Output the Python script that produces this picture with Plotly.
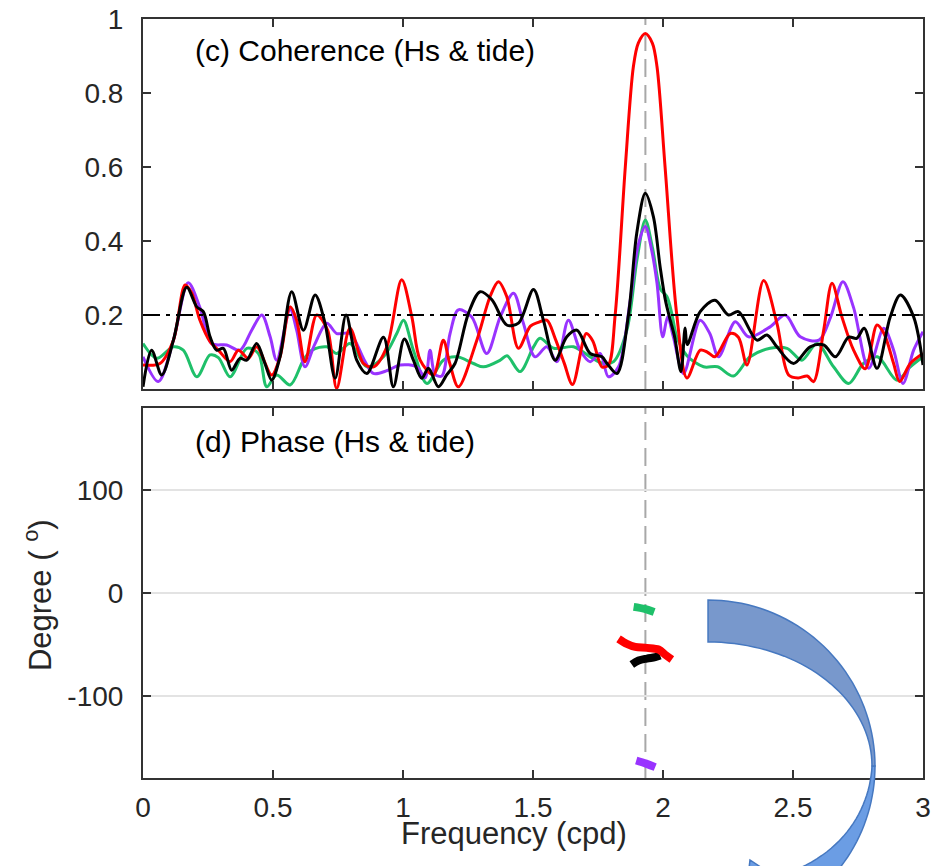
import numpy as np
import plotly.graph_objects as go

# ---- coherence spectra (Hs & tide), frequency in cpd ----
f_red = [0.000, 0.065, 0.117, 0.162, 0.187, 0.219, 0.258, 0.290, 0.335, 0.367, 0.405, 0.437,
         0.495, 0.527, 0.566, 0.591, 0.623, 0.668, 0.710, 0.745, 0.796, 0.848, 0.887, 0.938,
         0.995, 1.034, 1.066, 1.117, 1.155, 1.180, 1.213, 1.284, 1.335, 1.367, 1.399, 1.444,
         1.490, 1.520, 1.553, 1.585, 1.620, 1.652, 1.705, 1.730, 1.765, 1.790, 1.816, 1.855,
         1.886, 1.905, 1.932, 1.959, 1.977, 2.008, 2.053, 2.092, 2.143, 2.170, 2.200, 2.259,
         2.290, 2.323, 2.387, 2.438, 2.483, 2.520, 2.555, 2.579, 2.618, 2.650, 2.688, 2.733,
         2.778, 2.823, 2.850, 2.887, 2.910, 2.951, 3.000]
c_red = [0.065, 0.069, 0.132, 0.281, 0.260, 0.186, 0.128, 0.105, 0.074, 0.105, 0.083, 0.114,
         0.038, 0.087, 0.222, 0.186, 0.074, 0.200, 0.159, 0.002, 0.164, 0.069, 0.060, 0.114,
         0.295, 0.195, 0.078, 0.038, 0.132, 0.069, 0.006, 0.132, 0.250, 0.290, 0.250, 0.110,
         0.170, 0.180, 0.186, 0.137, 0.070, 0.012, 0.150, 0.130, 0.060, 0.065, 0.200, 0.600,
         0.871, 0.935, 0.961, 0.935, 0.871, 0.600, 0.200, 0.030, 0.105, 0.100, 0.087, 0.150,
         0.140, 0.065, 0.293, 0.178, 0.038, 0.030, 0.035, 0.020, 0.159, 0.286, 0.195, 0.105,
         0.055, 0.173, 0.150, 0.069, 0.020, 0.069, 0.096]

f_black = [0.000, 0.033, 0.072, 0.117, 0.168, 0.207, 0.232, 0.258, 0.283, 0.309, 0.341, 0.373,
           0.399, 0.437, 0.469, 0.495, 0.527, 0.572, 0.617, 0.662, 0.700, 0.739, 0.781, 0.822,
           0.861, 0.925, 0.963, 1.005, 1.040, 1.072, 1.098, 1.136, 1.168, 1.200, 1.252, 1.297,
           1.342, 1.399, 1.444, 1.502, 1.540, 1.585, 1.630, 1.669, 1.720, 1.765, 1.785, 1.823,
           1.867, 1.899, 1.932, 1.963, 1.989, 2.009, 2.028, 2.045, 2.069, 2.085, 2.093, 2.143,
           2.200, 2.252, 2.290, 2.361, 2.400, 2.438, 2.502, 2.566, 2.618, 2.663, 2.714, 2.745,
           2.774, 2.823, 2.874, 2.913, 2.964, 3.000]
c_black = [0.006, 0.105, 0.038, 0.132, 0.275, 0.222, 0.209, 0.141, 0.105, 0.110, 0.051, 0.083,
           0.078, 0.123, 0.069, 0.024, 0.087, 0.263, 0.159, 0.254, 0.178, 0.029, 0.200, 0.078,
           0.042, 0.140, 0.006, 0.135, 0.078, 0.029, 0.056, 0.006, 0.038, 0.069, 0.205, 0.263,
           0.241, 0.173, 0.178, 0.269, 0.186, 0.078, 0.141, 0.159, 0.096, 0.087, 0.069, 0.042,
           0.200, 0.421, 0.529, 0.466, 0.330, 0.241, 0.186, 0.140, 0.047, 0.165, 0.120, 0.209,
           0.240, 0.200, 0.209, 0.132, 0.146, 0.114, 0.069, 0.114, 0.119, 0.087, 0.140, 0.137,
           0.164, 0.056, 0.195, 0.254, 0.195, 0.065]

f_purple = [0.000, 0.059, 0.117, 0.174, 0.219, 0.264, 0.322, 0.373, 0.418, 0.457, 0.489, 0.514,
            0.566, 0.591, 0.623, 0.660, 0.707, 0.745, 0.796, 0.850, 0.886, 0.940, 0.989, 1.053,
            1.085, 1.104, 1.123, 1.149, 1.181, 1.213, 1.264, 1.322, 1.374, 1.425, 1.463, 1.508,
            1.553, 1.592, 1.636, 1.681, 1.720, 1.758, 1.790, 1.829, 1.874, 1.905, 1.932, 1.955,
            1.977, 1.999, 2.018, 2.040, 2.079, 2.143, 2.180, 2.214, 2.278, 2.329, 2.412, 2.470,
            2.528, 2.600, 2.645, 2.692, 2.733, 2.791, 2.849, 2.887, 2.923, 2.964, 3.000]
c_purple = [0.087, 0.020, 0.132, 0.287, 0.220, 0.123, 0.119, 0.105, 0.159, 0.200, 0.141, 0.078,
            0.215, 0.159, 0.060, 0.120, 0.178, 0.150, 0.150, 0.080, 0.042, 0.050, 0.065, 0.060,
            0.030, 0.105, 0.040, 0.035, 0.150, 0.214, 0.195, 0.096, 0.195, 0.259, 0.178, 0.087,
            0.114, 0.074, 0.186, 0.105, 0.074, 0.096, 0.033, 0.060, 0.240, 0.390, 0.439, 0.380,
            0.286, 0.141, 0.195, 0.140, 0.042, 0.186, 0.150, 0.087, 0.182, 0.141, 0.168, 0.200,
            0.141, 0.132, 0.195, 0.290, 0.220, 0.056, 0.164, 0.105, 0.015, 0.105, 0.155]

f_green = [0.000, 0.053, 0.117, 0.155, 0.207, 0.258, 0.290, 0.335, 0.399, 0.444, 0.476, 0.514,
           0.566, 0.617, 0.650, 0.707, 0.745, 0.796, 0.861, 0.925, 0.976, 1.002, 1.040, 1.092,
           1.155, 1.207, 1.271, 1.309, 1.374, 1.400, 1.450, 1.502, 1.527, 1.580, 1.656, 1.720,
           1.771, 1.810, 1.861, 1.900, 1.932, 1.960, 1.990, 2.015, 2.035, 2.053, 2.092, 2.156,
           2.210, 2.271, 2.335, 2.412, 2.477, 2.534, 2.592, 2.656, 2.714, 2.771, 2.825, 2.900,
           2.951, 3.000]
c_green = [0.123, 0.083, 0.114, 0.105, 0.033, 0.092, 0.085, 0.033, 0.110, 0.096, 0.006, 0.038,
           0.011, 0.078, 0.105, 0.114, 0.096, 0.123, 0.060, 0.087, 0.150, 0.186, 0.105, 0.015,
           0.078, 0.087, 0.069, 0.060, 0.078, 0.090, 0.047, 0.114, 0.137, 0.110, 0.114, 0.087,
           0.069, 0.074, 0.159, 0.350, 0.457, 0.380, 0.270, 0.250, 0.200, 0.141, 0.090, 0.060,
           0.060, 0.035, 0.087, 0.110, 0.110, 0.078, 0.123, 0.060, 0.015, 0.069, 0.087, 0.024,
           0.060, 0.087]

# ---- phase (degrees) around the M2 band ----
pf_green = [1.887, 1.930, 1.966]
ph_green = [-13.5, -15.5, -18.5]
pf_purple = [1.897, 1.935, 1.970]
ph_purple = [-163.0, -166.0, -169.4]
pf_black = [1.880, 1.906, 1.938, 1.970, 1.989]
ph_black = [-69.6, -65.7, -63.8, -62.5, -60.9]
pf_red = [1.829, 1.861, 1.893, 1.938, 1.983, 2.008, 2.034]
ph_red = [-44.7, -49.6, -52.5, -53.4, -55.0, -60.0, -64.7]

M2_FREQ = 1.9323       # semidiurnal lunar tide, cpd
SIG_LEVEL = 0.2        # coherence significance level
x_ticks = [0, 0.5, 1, 1.5, 2, 2.5, 3]
coh_ticks = [0.2, 0.4, 0.6, 0.8, 1]
phase_ticks = [-100, 0, 100]
phase_tick_text = ["-100", "0", "100"]

RED, BLACK, PURPLE, GREEN = "#ff0000", "#000000", "#9933ff", "#1fc06a"
AXC = "#333333"
FONT = "Liberation Sans, Arial, Helvetica, sans-serif"

fig = go.Figure()

for f, c, col in [(f_green, c_green, GREEN), (f_purple, c_purple, PURPLE),
                  (f_red, c_red, RED), (f_black, c_black, BLACK)]:
    fig.add_trace(go.Scatter(x=f, y=c, mode="lines", xaxis="x", yaxis="y",
                             line=dict(color=col, width=3, shape="spline", smoothing=0.9),
                             showlegend=False, hoverinfo="skip"))

for f, p, col in [(pf_green, ph_green, GREEN), (pf_purple, ph_purple, PURPLE),
                  (pf_black, ph_black, BLACK), (pf_red, ph_red, RED)]:
    fig.add_trace(go.Scatter(x=f, y=p, mode="lines", xaxis="x2", yaxis="y2",
                             line=dict(color=col, width=8, shape="spline", smoothing=1.0),
                             showlegend=False, hoverinfo="skip"))

common_x = dict(range=[0, 3], tickvals=x_ticks, ticks="inside", ticklen=8, tickwidth=2,
                tickcolor=AXC, showline=True, linecolor=AXC, linewidth=2, mirror="ticks",
                showgrid=False, zeroline=False, automargin=False,
                tickfont=dict(family=FONT, size=28, color="#262626"))
common_y = dict(ticks="inside", ticklen=8, tickwidth=2, tickcolor=AXC, showline=True,
                linecolor=AXC, linewidth=2, mirror="ticks", zeroline=False, automargin=False,
                tickfont=dict(family=FONT, size=28, color="#262626"),
                ticklabelstandoff=12)

fig.update_layout(
    width=940, height=866,
    margin=dict(l=143, r=17, t=19, b=88),
    paper_bgcolor="white", plot_bgcolor="white",
    xaxis=dict(common_x, anchor="y", showticklabels=False),
    yaxis=dict(common_y, domain=[0.5125, 1.0], range=[0, 1], tickvals=coh_ticks,
               showgrid=False, anchor="x"),
    xaxis2=dict(common_x, anchor="y2", ticklabelstandoff=3),
    yaxis2=dict(common_y, domain=[0.0, 0.4875], range=[-180, 180], tickvals=phase_ticks,
                ticktext=phase_tick_text,
                showgrid=True, gridcolor="#e3e3e3", gridwidth=2, anchor="x2"),
)

# significance level and M2 marker lines
fig.add_shape(type="line", xref="x", yref="y", x0=0, x1=3, y0=SIG_LEVEL, y1=SIG_LEVEL,
              line=dict(color="black", width=2, dash="17px,6px,4px,6px"), layer="above")
for xr, yr in [("x", "y domain"), ("x2", "y2 domain")]:
    fig.add_shape(type="line", xref=xr, yref=yr, x0=M2_FREQ, x1=M2_FREQ, y0=0, y1=1,
                  line=dict(color="#a8a8a8", width=2, dash="18px,8px"), layer="below")

# curved block arrow, laid out in page pixels then mapped to paper units
def to_paper(px, py):
    return (px - 143) / 780.0, (778 - py) / 759.0

def path_of(points):
    pts = [to_paper(x, y) for x, y in points]
    return "M " + " L ".join(f"{x:.4f},{y:.4f}" for x, y in pts) + " Z"

cx, cy = 708.0, 766.0
th_up = np.radians(np.linspace(-90, 0, 40))
outer_up = [(cx + 167 * np.cos(t), cy + 166 * np.sin(t)) for t in th_up]
inner_up = [(cx + 164 * np.cos(t), cy + 124 * np.sin(t)) for t in th_up[::-1]]
upper_band = outer_up + inner_up

th_lo = np.radians(np.linspace(0, 50, 25))
outer_lo = [(cx + 167 * np.cos(t), cy + 166 * np.sin(t)) for t in th_lo]
head = [(860, 915), (735, 990), (750, 860), (792, 888), (800, 868)]
tb = np.linspace(1, 0, 25)
p0, p1, p2, p3 = (872, 766), (870, 805), (848, 846), (800, 868)
inner_lo = [((1 - t) ** 3 * p0[0] + 3 * (1 - t) ** 2 * t * p1[0] + 3 * (1 - t) * t ** 2 * p2[0] + t ** 3 * p3[0],
             (1 - t) ** 3 * p0[1] + 3 * (1 - t) ** 2 * t * p1[1] + 3 * (1 - t) * t ** 2 * p2[1] + t ** 3 * p3[1])
            for t in tb]
lower_band = outer_lo + head + inner_lo

fig.add_shape(type="path", xref="paper", yref="paper", path=path_of(lower_band),
              fillcolor="#6b9de4", line=dict(color="#4678c0", width=1.5), layer="above")
fig.add_shape(type="path", xref="paper", yref="paper", path=path_of(upper_band),
              fillcolor="#7898cc", line=dict(color="#4678c0", width=1.5), layer="above")

# panel labels and axis titles
fig.add_annotation(xref="paper", yref="paper", x=0.0641, y=0.958, xanchor="left",
                   yanchor="middle", showarrow=False, text="(c) Coherence (Hs & tide)",
                   font=dict(family=FONT, size=30, color="black"))
fig.add_annotation(xref="paper", yref="paper", x=0.0641, y=0.444, xanchor="left",
                   yanchor="middle", showarrow=False, text="(d) Phase (Hs & tide)",
                   font=dict(family=FONT, size=30, color="black"))
fig.add_annotation(xref="paper", yref="paper", x=0.4756, y=-0.0725, xanchor="center",
                   yanchor="middle", showarrow=False, text="Frequency (cpd)",
                   font=dict(family=FONT, size=31, color="#262626"))
fig.add_annotation(xref="paper", yref="paper", x=-0.1346, y=0.241, xanchor="center",
                   yanchor="middle", showarrow=False, textangle=-90,
                   text="Degree ( <sup>o</sup>)",
                   font=dict(family=FONT, size=31, color="#262626"))

fig.write_html("out.html")
